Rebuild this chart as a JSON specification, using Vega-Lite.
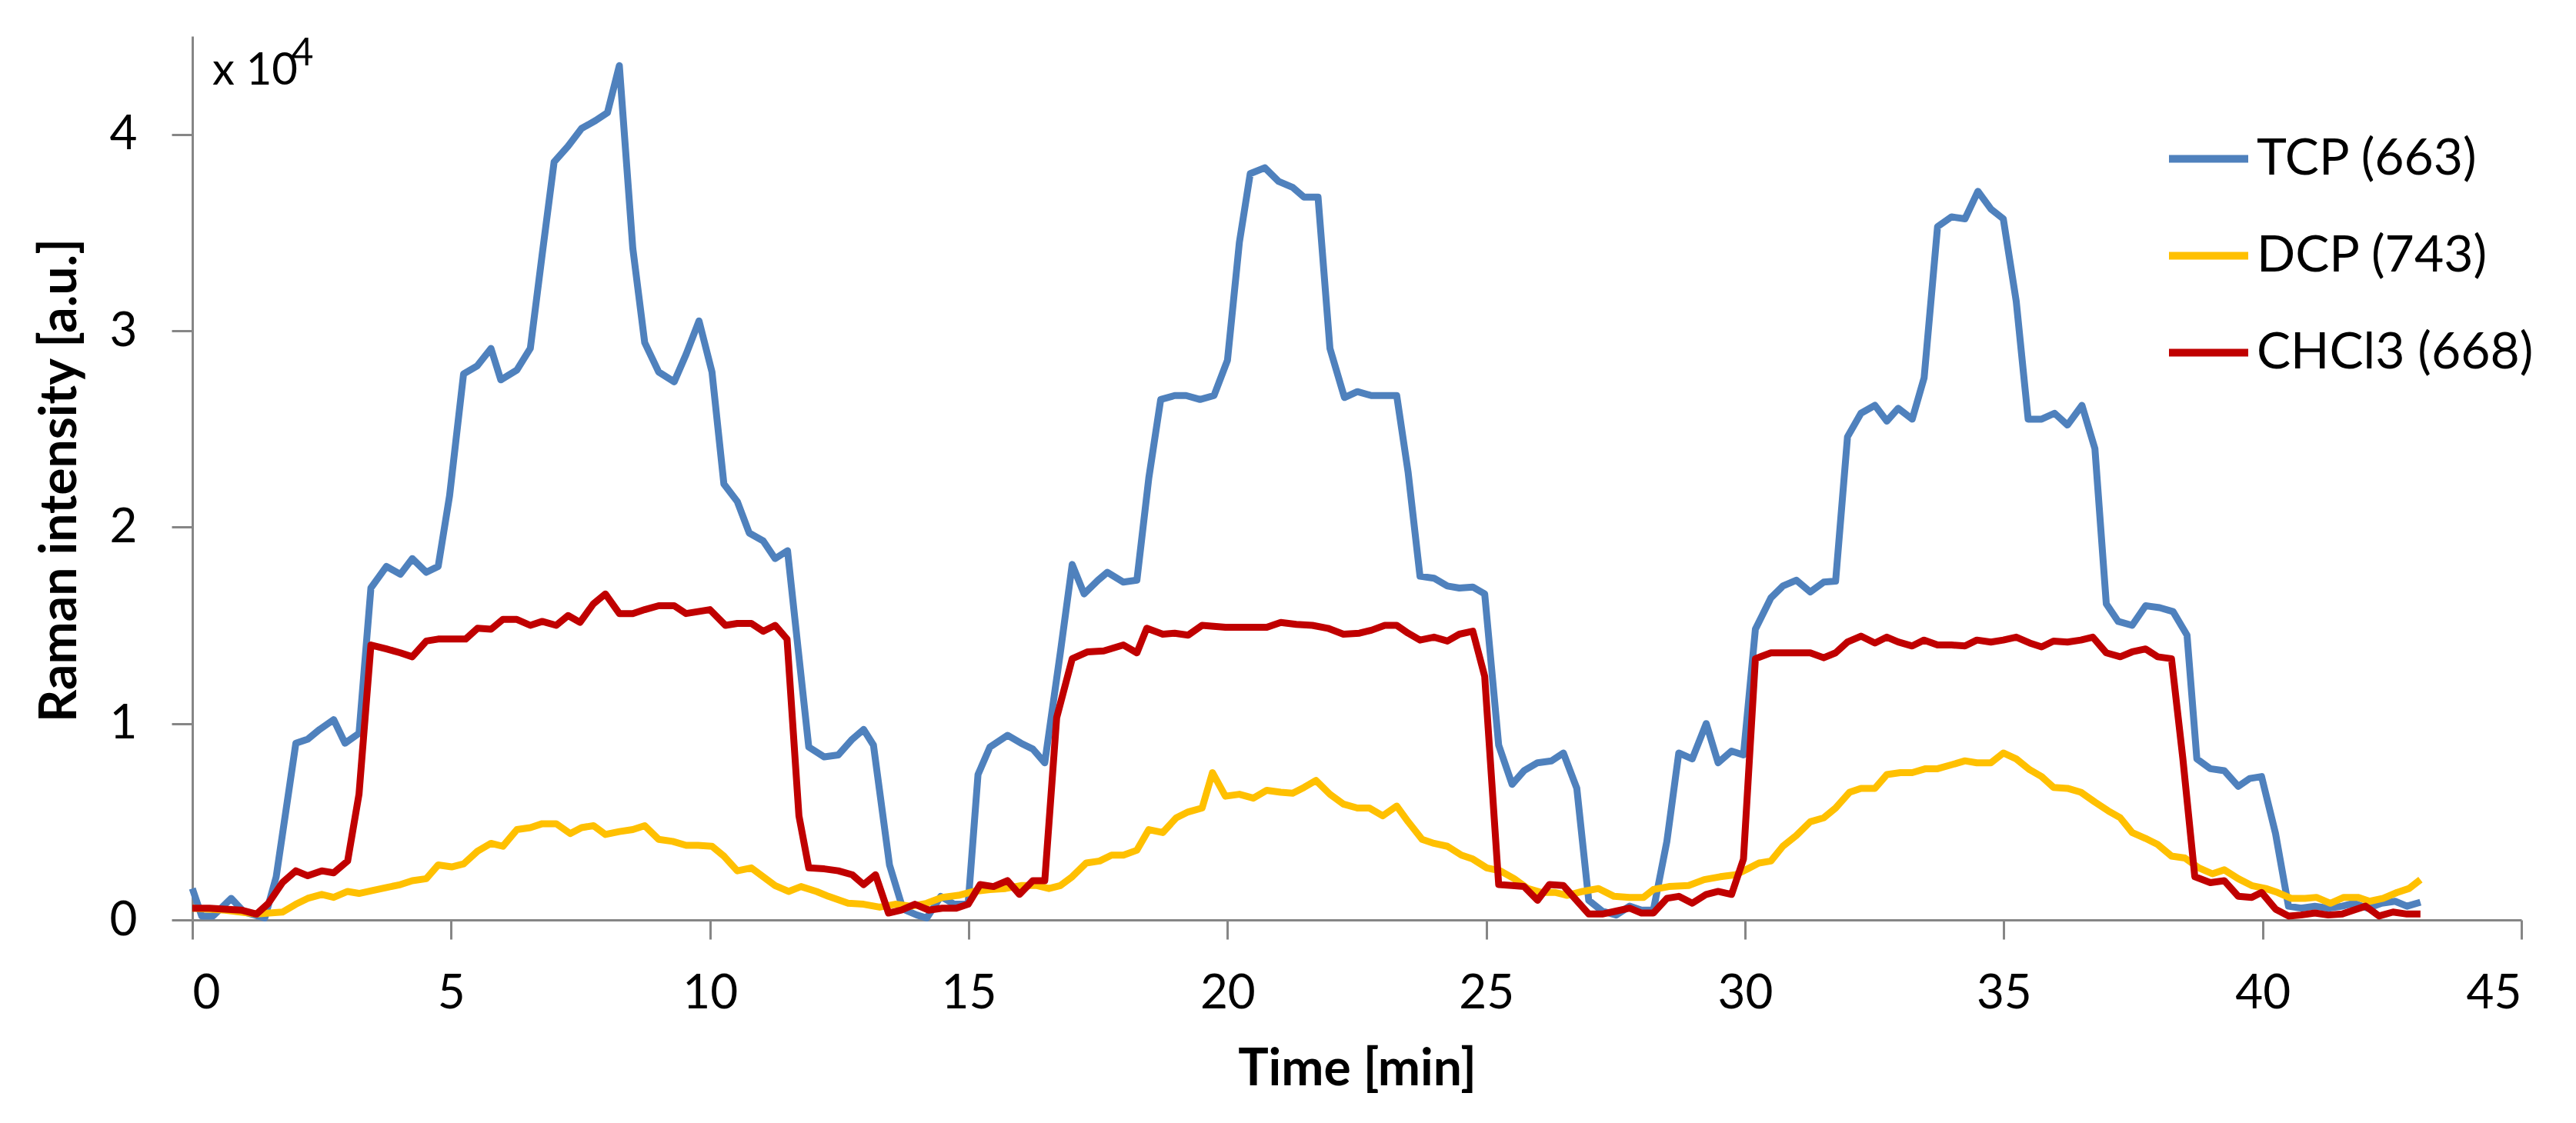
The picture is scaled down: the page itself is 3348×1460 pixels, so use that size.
{
  "$schema": "https://vega.github.io/schema/vega-lite/v6.json",
  "width": 3027,
  "height": 1149,
  "autosize": {"type": "none"},
  "padding": {"left": 250, "top": 47, "right": 71, "bottom": 264},
  "background": "white",
  "title": {
    "text": "\u200b\u00a0\u00a0\u00a0\u00a0\u00a0\u00a0\u00a0\u00a04",
    "subtitle": "x 10",
    "anchor": "start",
    "frame": "group",
    "orient": "top",
    "offset": -75,
    "dx": 26,
    "fontSize": 50,
    "fontWeight": "normal",
    "font": "Lato",
    "color": "#000000",
    "subtitleFont": "Lato",
    "subtitleFontSize": 58,
    "subtitleColor": "#000000",
    "subtitlePadding": -31
  },
  "encoding": {
    "x": {
      "field": "t",
      "type": "quantitative",
      "title": "Time [min]",
      "scale": {"domain": [0, 45], "nice": false},
      "axis": {
        "values": [0, 5, 10, 15, 20, 25, 30, 35, 40, 45],
        "tickSize": 25,
        "labelPadding": 40,
        "titlePadding": 36
      }
    },
    "y": {
      "field": "v",
      "type": "quantitative",
      "title": "Raman intensity [a.u.]",
      "scale": {"domain": [0, 45000], "nice": false},
      "axis": {
        "values": [0, 10000, 20000, 30000, 40000],
        "labelExpr": "datum.value / 10000",
        "tickSize": 27,
        "labelPadding": 45,
        "titleX": -172,
        "titleY": 577,
        "titleAngle": -90,
        "titleAlign": "center",
        "titleBaseline": "middle"
      }
    }
  },
  "layer": [
    {
      "data": {"values": [
        {"t": 0, "v": 1600}, {"t": 0.18, "v": 200}, {"t": 0.4, "v": 200}, {"t": 0.75, "v": 1100},
        {"t": 1.0, "v": 400}, {"t": 1.4, "v": 100}, {"t": 1.62, "v": 2200}, {"t": 2.0, "v": 9000},
        {"t": 2.23, "v": 9200}, {"t": 2.46, "v": 9700}, {"t": 2.73, "v": 10200}, {"t": 2.95, "v": 9000},
        {"t": 3.22, "v": 9500}, {"t": 3.45, "v": 16900}, {"t": 3.75, "v": 18000}, {"t": 4.02, "v": 17600},
        {"t": 4.25, "v": 18400}, {"t": 4.52, "v": 17700}, {"t": 4.75, "v": 18000}, {"t": 4.97, "v": 21600},
        {"t": 5.24, "v": 27800}, {"t": 5.5, "v": 28200}, {"t": 5.77, "v": 29100}, {"t": 5.96, "v": 27500},
        {"t": 6.27, "v": 28000}, {"t": 6.53, "v": 29100}, {"t": 6.76, "v": 33900}, {"t": 6.99, "v": 38600},
        {"t": 7.26, "v": 39400}, {"t": 7.52, "v": 40300}, {"t": 7.79, "v": 40700}, {"t": 8.02, "v": 41100},
        {"t": 8.25, "v": 43500}, {"t": 8.51, "v": 34200}, {"t": 8.74, "v": 29400}, {"t": 9.01, "v": 27900},
        {"t": 9.31, "v": 27400}, {"t": 9.54, "v": 28800}, {"t": 9.79, "v": 30500}, {"t": 10.04, "v": 27900},
        {"t": 10.27, "v": 22200}, {"t": 10.53, "v": 21300}, {"t": 10.76, "v": 19700}, {"t": 11.03, "v": 19300},
        {"t": 11.26, "v": 18400}, {"t": 11.5, "v": 18800}, {"t": 11.7, "v": 13900}, {"t": 11.91, "v": 8800},
        {"t": 12.21, "v": 8300}, {"t": 12.48, "v": 8400}, {"t": 12.75, "v": 9200}, {"t": 12.97, "v": 9700},
        {"t": 13.16, "v": 8900}, {"t": 13.47, "v": 2800}, {"t": 13.73, "v": 550}, {"t": 14.0, "v": 250},
        {"t": 14.19, "v": 100}, {"t": 14.46, "v": 1200}, {"t": 14.72, "v": 800}, {"t": 14.99, "v": 850},
        {"t": 15.18, "v": 7400}, {"t": 15.41, "v": 8800}, {"t": 15.75, "v": 9400}, {"t": 16.01, "v": 9000},
        {"t": 16.24, "v": 8700}, {"t": 16.47, "v": 8000}, {"t": 16.77, "v": 13600}, {"t": 17.0, "v": 18100},
        {"t": 17.23, "v": 16600}, {"t": 17.5, "v": 17300}, {"t": 17.68, "v": 17700}, {"t": 17.99, "v": 17200},
        {"t": 18.25, "v": 17300}, {"t": 18.48, "v": 22500}, {"t": 18.71, "v": 26500}, {"t": 18.98, "v": 26700},
        {"t": 19.2, "v": 26700}, {"t": 19.47, "v": 26500}, {"t": 19.74, "v": 26700}, {"t": 20.0, "v": 28500},
        {"t": 20.23, "v": 34500}, {"t": 20.44, "v": 38000}, {"t": 20.72, "v": 38300}, {"t": 20.99, "v": 37600},
        {"t": 21.26, "v": 37300}, {"t": 21.48, "v": 36800}, {"t": 21.75, "v": 36800}, {"t": 21.98, "v": 29100},
        {"t": 22.26, "v": 26600}, {"t": 22.51, "v": 26900}, {"t": 22.78, "v": 26700}, {"t": 23.04, "v": 26700},
        {"t": 23.27, "v": 26700}, {"t": 23.49, "v": 22800}, {"t": 23.72, "v": 17500}, {"t": 23.99, "v": 17400},
        {"t": 24.25, "v": 17000}, {"t": 24.48, "v": 16900}, {"t": 24.74, "v": 16950}, {"t": 24.97, "v": 16600},
        {"t": 25.24, "v": 8900}, {"t": 25.5, "v": 6900}, {"t": 25.73, "v": 7600}, {"t": 25.99, "v": 8000},
        {"t": 26.26, "v": 8100}, {"t": 26.49, "v": 8500}, {"t": 26.75, "v": 6700}, {"t": 26.98, "v": 1000},
        {"t": 27.24, "v": 450}, {"t": 27.51, "v": 250}, {"t": 27.77, "v": 700}, {"t": 28.0, "v": 500},
        {"t": 28.23, "v": 500}, {"t": 28.49, "v": 4000}, {"t": 28.72, "v": 8500}, {"t": 28.98, "v": 8200},
        {"t": 29.25, "v": 10000}, {"t": 29.48, "v": 8000}, {"t": 29.74, "v": 8600}, {"t": 29.97, "v": 8400},
        {"t": 30.2, "v": 14800}, {"t": 30.5, "v": 16400}, {"t": 30.73, "v": 17000}, {"t": 30.99, "v": 17300},
        {"t": 31.26, "v": 16700}, {"t": 31.52, "v": 17200}, {"t": 31.75, "v": 17250}, {"t": 31.98, "v": 24600},
        {"t": 32.24, "v": 25800}, {"t": 32.51, "v": 26200}, {"t": 32.74, "v": 25400}, {"t": 32.96, "v": 26050},
        {"t": 33.23, "v": 25500}, {"t": 33.46, "v": 27600}, {"t": 33.72, "v": 35300}, {"t": 33.99, "v": 35800},
        {"t": 34.25, "v": 35700}, {"t": 34.5, "v": 37100}, {"t": 34.75, "v": 36200}, {"t": 34.99, "v": 35700},
        {"t": 35.24, "v": 31500}, {"t": 35.47, "v": 25500}, {"t": 35.73, "v": 25500}, {"t": 35.98, "v": 25800},
        {"t": 36.23, "v": 25200}, {"t": 36.51, "v": 26200}, {"t": 36.76, "v": 24000}, {"t": 36.98, "v": 16100},
        {"t": 37.21, "v": 15200}, {"t": 37.48, "v": 15000}, {"t": 37.74, "v": 16000}, {"t": 38.01, "v": 15900},
        {"t": 38.27, "v": 15700}, {"t": 38.54, "v": 14500}, {"t": 38.73, "v": 8200}, {"t": 38.99, "v": 7700},
        {"t": 39.26, "v": 7600}, {"t": 39.53, "v": 6800}, {"t": 39.75, "v": 7200}, {"t": 39.98, "v": 7300},
        {"t": 40.25, "v": 4400}, {"t": 40.5, "v": 700}, {"t": 40.74, "v": 600}, {"t": 41.01, "v": 700},
        {"t": 41.27, "v": 600}, {"t": 41.54, "v": 700}, {"t": 41.76, "v": 850}, {"t": 42.03, "v": 600},
        {"t": 42.3, "v": 850}, {"t": 42.56, "v": 950}, {"t": 42.79, "v": 700}, {"t": 43.05, "v": 900}
      ]},
      "mark": {"type": "line", "strokeWidth": 9, "strokeJoin": "round"},
      "encoding": {"color": {"datum": "TCP (663)"}}
    },
    {
      "data": {"values": [
        {"t": 0, "v": 600}, {"t": 0.63, "v": 500}, {"t": 1.24, "v": 300}, {"t": 1.74, "v": 400},
        {"t": 2.0, "v": 800}, {"t": 2.23, "v": 1100}, {"t": 2.5, "v": 1300}, {"t": 2.73, "v": 1150},
        {"t": 3.0, "v": 1450}, {"t": 3.22, "v": 1350}, {"t": 3.49, "v": 1500}, {"t": 3.75, "v": 1650},
        {"t": 4.02, "v": 1800}, {"t": 4.25, "v": 2000}, {"t": 4.52, "v": 2100}, {"t": 4.75, "v": 2800},
        {"t": 5.01, "v": 2700}, {"t": 5.24, "v": 2850}, {"t": 5.51, "v": 3500}, {"t": 5.77, "v": 3900},
        {"t": 6.0, "v": 3750}, {"t": 6.27, "v": 4600}, {"t": 6.53, "v": 4700}, {"t": 6.76, "v": 4900},
        {"t": 7.03, "v": 4900}, {"t": 7.3, "v": 4400}, {"t": 7.52, "v": 4700}, {"t": 7.75, "v": 4800},
        {"t": 7.98, "v": 4350}, {"t": 8.25, "v": 4500}, {"t": 8.51, "v": 4600}, {"t": 8.74, "v": 4800},
        {"t": 9.01, "v": 4100}, {"t": 9.28, "v": 4000}, {"t": 9.54, "v": 3800}, {"t": 9.77, "v": 3800},
        {"t": 10.04, "v": 3750}, {"t": 10.27, "v": 3250}, {"t": 10.53, "v": 2500}, {"t": 10.8, "v": 2650},
        {"t": 11.03, "v": 2200}, {"t": 11.26, "v": 1750}, {"t": 11.52, "v": 1450}, {"t": 11.76, "v": 1700},
        {"t": 12.06, "v": 1450}, {"t": 12.29, "v": 1200}, {"t": 12.67, "v": 850}, {"t": 12.97, "v": 800},
        {"t": 13.28, "v": 650}, {"t": 13.58, "v": 800}, {"t": 13.89, "v": 700}, {"t": 14.19, "v": 850},
        {"t": 14.49, "v": 1150}, {"t": 14.8, "v": 1250}, {"t": 15.1, "v": 1450}, {"t": 15.41, "v": 1550},
        {"t": 15.71, "v": 1600}, {"t": 16.01, "v": 1750}, {"t": 16.32, "v": 1750}, {"t": 16.55, "v": 1600},
        {"t": 16.77, "v": 1750}, {"t": 17.0, "v": 2200}, {"t": 17.27, "v": 2900}, {"t": 17.53, "v": 3000},
        {"t": 17.76, "v": 3300}, {"t": 17.99, "v": 3300}, {"t": 18.25, "v": 3550}, {"t": 18.48, "v": 4600},
        {"t": 18.75, "v": 4450}, {"t": 19.01, "v": 5200}, {"t": 19.24, "v": 5500}, {"t": 19.51, "v": 5700},
        {"t": 19.71, "v": 7500}, {"t": 19.96, "v": 6300}, {"t": 20.23, "v": 6400}, {"t": 20.5, "v": 6200},
        {"t": 20.76, "v": 6600}, {"t": 21.03, "v": 6500}, {"t": 21.26, "v": 6450}, {"t": 21.48, "v": 6750},
        {"t": 21.71, "v": 7100}, {"t": 21.98, "v": 6400}, {"t": 22.24, "v": 5900}, {"t": 22.51, "v": 5700},
        {"t": 22.74, "v": 5700}, {"t": 23.0, "v": 5300}, {"t": 23.27, "v": 5800}, {"t": 23.49, "v": 5000},
        {"t": 23.76, "v": 4100}, {"t": 23.99, "v": 3900}, {"t": 24.25, "v": 3750}, {"t": 24.52, "v": 3300},
        {"t": 24.74, "v": 3100}, {"t": 25.01, "v": 2650}, {"t": 25.27, "v": 2500}, {"t": 25.54, "v": 2100},
        {"t": 25.8, "v": 1600}, {"t": 26.07, "v": 1400}, {"t": 26.33, "v": 1400}, {"t": 26.56, "v": 1250},
        {"t": 26.86, "v": 1450}, {"t": 27.17, "v": 1600}, {"t": 27.47, "v": 1200}, {"t": 27.77, "v": 1150},
        {"t": 28.04, "v": 1150}, {"t": 28.23, "v": 1550}, {"t": 28.53, "v": 1700}, {"t": 28.91, "v": 1750},
        {"t": 29.21, "v": 2050}, {"t": 29.52, "v": 2200}, {"t": 29.82, "v": 2300}, {"t": 30.05, "v": 2600},
        {"t": 30.27, "v": 2900}, {"t": 30.5, "v": 3000}, {"t": 30.73, "v": 3750}, {"t": 30.99, "v": 4300},
        {"t": 31.26, "v": 5000}, {"t": 31.52, "v": 5200}, {"t": 31.75, "v": 5700}, {"t": 32.02, "v": 6500},
        {"t": 32.24, "v": 6700}, {"t": 32.51, "v": 6700}, {"t": 32.74, "v": 7400}, {"t": 33.0, "v": 7500},
        {"t": 33.23, "v": 7500}, {"t": 33.49, "v": 7700}, {"t": 33.72, "v": 7700}, {"t": 33.99, "v": 7900},
        {"t": 34.25, "v": 8100}, {"t": 34.48, "v": 8000}, {"t": 34.75, "v": 8000}, {"t": 34.99, "v": 8500},
        {"t": 35.24, "v": 8200}, {"t": 35.5, "v": 7650}, {"t": 35.73, "v": 7300}, {"t": 35.96, "v": 6750},
        {"t": 36.23, "v": 6700}, {"t": 36.49, "v": 6500}, {"t": 36.76, "v": 6000}, {"t": 37.02, "v": 5550},
        {"t": 37.25, "v": 5200}, {"t": 37.48, "v": 4450}, {"t": 37.74, "v": 4150}, {"t": 37.97, "v": 3850},
        {"t": 38.24, "v": 3250}, {"t": 38.5, "v": 3150}, {"t": 38.77, "v": 2650}, {"t": 39.03, "v": 2350},
        {"t": 39.26, "v": 2550}, {"t": 39.53, "v": 2100}, {"t": 39.79, "v": 1750}, {"t": 40.06, "v": 1600},
        {"t": 40.29, "v": 1400}, {"t": 40.55, "v": 1100}, {"t": 40.82, "v": 1100}, {"t": 41.04, "v": 1150},
        {"t": 41.31, "v": 850}, {"t": 41.57, "v": 1150}, {"t": 41.84, "v": 1150}, {"t": 42.07, "v": 950},
        {"t": 42.33, "v": 1100}, {"t": 42.6, "v": 1400}, {"t": 42.83, "v": 1600}, {"t": 43.05, "v": 2050}
      ]},
      "mark": {"type": "line", "strokeWidth": 9, "strokeJoin": "round"},
      "encoding": {"color": {"datum": "DCP (743)"}}
    },
    {
      "data": {"values": [
        {"t": 0, "v": 600}, {"t": 0.33, "v": 600}, {"t": 0.63, "v": 550}, {"t": 0.94, "v": 500},
        {"t": 1.24, "v": 300}, {"t": 1.47, "v": 850}, {"t": 1.74, "v": 1900}, {"t": 2.0, "v": 2500},
        {"t": 2.23, "v": 2250}, {"t": 2.5, "v": 2500}, {"t": 2.73, "v": 2400}, {"t": 3.0, "v": 3000},
        {"t": 3.22, "v": 6400}, {"t": 3.45, "v": 14000}, {"t": 3.75, "v": 13800}, {"t": 4.02, "v": 13600},
        {"t": 4.25, "v": 13400}, {"t": 4.52, "v": 14200}, {"t": 4.75, "v": 14300}, {"t": 5.01, "v": 14300},
        {"t": 5.28, "v": 14300}, {"t": 5.51, "v": 14850}, {"t": 5.77, "v": 14800}, {"t": 6.0, "v": 15300},
        {"t": 6.27, "v": 15300}, {"t": 6.53, "v": 15000}, {"t": 6.76, "v": 15200}, {"t": 7.03, "v": 15000},
        {"t": 7.26, "v": 15500}, {"t": 7.49, "v": 15150}, {"t": 7.75, "v": 16100}, {"t": 7.98, "v": 16600},
        {"t": 8.25, "v": 15600}, {"t": 8.51, "v": 15600}, {"t": 8.74, "v": 15800}, {"t": 9.01, "v": 16000},
        {"t": 9.31, "v": 16000}, {"t": 9.54, "v": 15600}, {"t": 9.77, "v": 15700}, {"t": 10.0, "v": 15800},
        {"t": 10.3, "v": 15000}, {"t": 10.53, "v": 15100}, {"t": 10.8, "v": 15100}, {"t": 11.03, "v": 14700},
        {"t": 11.26, "v": 15000}, {"t": 11.49, "v": 14300}, {"t": 11.72, "v": 5300}, {"t": 11.91, "v": 2650},
        {"t": 12.21, "v": 2600}, {"t": 12.48, "v": 2500}, {"t": 12.75, "v": 2300}, {"t": 12.97, "v": 1800},
        {"t": 13.2, "v": 2300}, {"t": 13.45, "v": 350}, {"t": 13.7, "v": 500}, {"t": 13.96, "v": 800},
        {"t": 14.23, "v": 500}, {"t": 14.49, "v": 600}, {"t": 14.76, "v": 600}, {"t": 14.99, "v": 800},
        {"t": 15.22, "v": 1800}, {"t": 15.48, "v": 1700}, {"t": 15.75, "v": 2000}, {"t": 15.98, "v": 1300},
        {"t": 16.24, "v": 2000}, {"t": 16.47, "v": 2000}, {"t": 16.7, "v": 10300}, {"t": 17.0, "v": 13300},
        {"t": 17.3, "v": 13650}, {"t": 17.61, "v": 13700}, {"t": 17.99, "v": 14000}, {"t": 18.25, "v": 13600},
        {"t": 18.44, "v": 14850}, {"t": 18.75, "v": 14550}, {"t": 18.98, "v": 14600}, {"t": 19.24, "v": 14500},
        {"t": 19.51, "v": 15000}, {"t": 19.96, "v": 14900}, {"t": 20.36, "v": 14900}, {"t": 20.76, "v": 14900},
        {"t": 21.03, "v": 15150}, {"t": 21.33, "v": 15050}, {"t": 21.64, "v": 15000}, {"t": 21.94, "v": 14850},
        {"t": 22.24, "v": 14550}, {"t": 22.55, "v": 14600}, {"t": 22.78, "v": 14750}, {"t": 23.04, "v": 15000},
        {"t": 23.27, "v": 15000}, {"t": 23.49, "v": 14600}, {"t": 23.72, "v": 14250}, {"t": 23.99, "v": 14400},
        {"t": 24.25, "v": 14200}, {"t": 24.48, "v": 14550}, {"t": 24.74, "v": 14700}, {"t": 24.97, "v": 12400},
        {"t": 25.24, "v": 1800}, {"t": 25.5, "v": 1750}, {"t": 25.73, "v": 1700}, {"t": 25.99, "v": 1000},
        {"t": 26.22, "v": 1800}, {"t": 26.49, "v": 1750}, {"t": 26.71, "v": 1100}, {"t": 26.98, "v": 300},
        {"t": 27.24, "v": 300}, {"t": 27.51, "v": 450}, {"t": 27.77, "v": 600}, {"t": 28.0, "v": 350},
        {"t": 28.23, "v": 350}, {"t": 28.49, "v": 1100}, {"t": 28.72, "v": 1200}, {"t": 28.98, "v": 850},
        {"t": 29.25, "v": 1300}, {"t": 29.48, "v": 1450}, {"t": 29.74, "v": 1300}, {"t": 29.97, "v": 3100},
        {"t": 30.2, "v": 13300}, {"t": 30.5, "v": 13600}, {"t": 30.73, "v": 13600}, {"t": 30.99, "v": 13600},
        {"t": 31.26, "v": 13600}, {"t": 31.52, "v": 13350}, {"t": 31.75, "v": 13600}, {"t": 31.98, "v": 14150},
        {"t": 32.24, "v": 14450}, {"t": 32.51, "v": 14100}, {"t": 32.74, "v": 14400}, {"t": 32.96, "v": 14150},
        {"t": 33.23, "v": 13950}, {"t": 33.46, "v": 14250}, {"t": 33.72, "v": 14000}, {"t": 33.99, "v": 14000},
        {"t": 34.25, "v": 13950}, {"t": 34.48, "v": 14250}, {"t": 34.75, "v": 14150}, {"t": 34.99, "v": 14250},
        {"t": 35.24, "v": 14400}, {"t": 35.5, "v": 14100}, {"t": 35.73, "v": 13900}, {"t": 35.96, "v": 14200},
        {"t": 36.23, "v": 14150}, {"t": 36.49, "v": 14250}, {"t": 36.72, "v": 14400}, {"t": 36.98, "v": 13600},
        {"t": 37.25, "v": 13400}, {"t": 37.48, "v": 13650}, {"t": 37.74, "v": 13800}, {"t": 37.97, "v": 13400},
        {"t": 38.24, "v": 13300}, {"t": 38.46, "v": 8200}, {"t": 38.69, "v": 2200}, {"t": 38.99, "v": 1900},
        {"t": 39.26, "v": 2000}, {"t": 39.53, "v": 1200}, {"t": 39.79, "v": 1150}, {"t": 39.98, "v": 1400},
        {"t": 40.25, "v": 550}, {"t": 40.5, "v": 200}, {"t": 40.74, "v": 250}, {"t": 41.01, "v": 350},
        {"t": 41.27, "v": 250}, {"t": 41.54, "v": 300}, {"t": 41.76, "v": 500}, {"t": 41.99, "v": 700},
        {"t": 42.25, "v": 200}, {"t": 42.52, "v": 400}, {"t": 42.79, "v": 300}, {"t": 43.05, "v": 300}
      ]},
      "mark": {"type": "line", "strokeWidth": 9, "strokeJoin": "round"},
      "encoding": {"color": {"datum": "CHCl3 (668)"}}
    }
  ],
  "resolve": {"scale": {"color": "shared"}},
  "config": {
    "font": "Lato",
    "view": {"stroke": null},
    "range": {"category": ["#4F81BD", "#FFC000", "#C00000"]},
    "axis": {
      "grid": false,
      "domainColor": "#868686",
      "domainWidth": 3,
      "tickColor": "#868686",
      "tickWidth": 3,
      "labelFont": "Lato",
      "labelFontSize": 62,
      "labelColor": "#000000",
      "labelFontWeight": "normal",
      "titleFont": "Lato",
      "titleFontSize": 66,
      "titleFontWeight": "bold",
      "titleColor": "#000000"
    },
    "legend": {
      "orient": "none",
      "legendX": 2564,
      "legendY": 103,
      "title": null,
      "padding": 0,
      "symbolType": "stroke",
      "symbolSize": 10609,
      "symbolStrokeWidth": 10,
      "labelFont": "Lato",
      "labelFontSize": 66,
      "labelColor": "#000000",
      "labelOffset": 6,
      "rowPadding": 36,
      "labelLimit": 600
    }
  }
}
